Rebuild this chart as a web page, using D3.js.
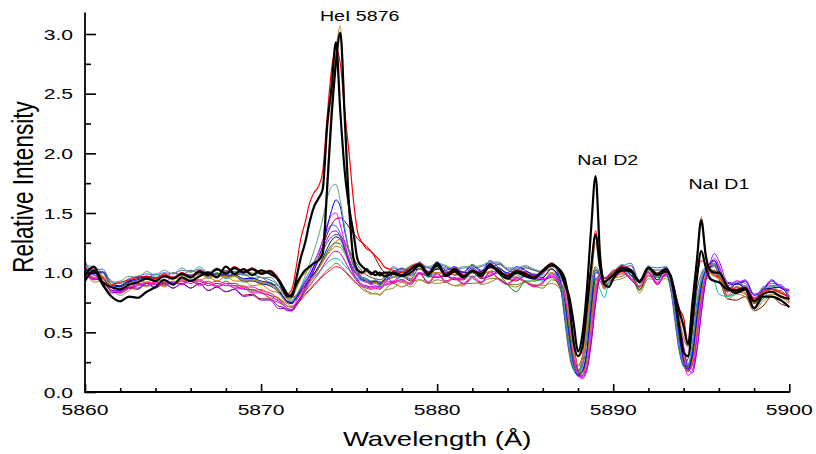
<!DOCTYPE html>
<html><head><meta charset="utf-8">
<script src="https://cdn.jsdelivr.net/npm/d3@7"></script>
<style>html,body{margin:0;padding:0;background:#fff;} svg{display:block;font-family:"Liberation Sans",Arial,sans-serif;}</style>
</head><body><svg id="chart" width="816" height="454"></svg>
<script>
// ---------------- DATA ----------------
const wavelength = [
 5860,5860.5,5861,5861.5,5862,5862.5,5863,5863.5,5864,5864.5,5865,5865.5,5866,5866.5,5867,5867.5,5868,5868.5,5869,5869.5,5870,5870.5,5871,
 5871.25,5871.5,5871.75,5872,5872.25,5872.5,5872.75,5873,5873.25,5873.5,5873.75,5874,5874.25,5874.5,5874.75,5875,5875.25,5875.5,5875.75,5876,5876.25,5876.5,5876.75,5877,
 5877.5,5878,5878.5,5879,5879.5,5880,5880.5,5881,5881.5,5882,5882.5,5883,5883.5,5884,5884.5,5885,5885.5,5886,5886.5,5887,
 5887.25,5887.5,5887.75,5888,5888.25,5888.5,5888.75,5889,5889.25,5889.5,5889.75,5890,
 5890.5,5891,5891.5,5892,5892.5,5893,
 5893.25,5893.5,5893.75,5894,5894.25,5894.5,5894.75,5895,5895.25,5895.5,5895.75,5896,
 5896.5,5897,5897.5,5898,5898.5,5899,5899.5,5900
];

const black1 = [
 0.93,1.02,0.90,0.80,0.76,0.80,0.79,0.84,0.88,0.94,0.90,0.96,0.93,0.97,1.00,0.96,1.05,0.99,1.03,0.98,1.02,0.99,0.94,
 0.88,0.82,0.80,0.95,1.12,1.25,1.42,1.55,1.62,1.70,2.22,2.55,2.93,2.35,1.85,1.55,1.33,1.10,1.05,1.02,1.00,0.98,1.00,0.97,
 0.99,0.97,1.00,1.06,0.98,1.08,0.97,1.01,0.96,1.02,0.97,1.07,1.00,0.95,1.00,0.97,0.95,1.02,1.07,1.00,
 0.90,0.80,0.58,0.34,0.48,0.85,1.38,1.81,1.15,0.90,0.88,0.95,
 1.02,1.01,0.92,1.04,0.98,1.01,
 0.98,0.82,0.68,0.55,0.40,0.75,1.10,1.44,1.15,1.02,1.00,1.00,
 0.88,0.83,0.86,0.70,0.80,0.80,0.77,0.71
];
const black2 = [
 0.98,1.05,0.92,0.88,0.86,0.90,0.92,0.95,0.93,0.97,0.95,0.99,0.96,1.01,0.98,1.03,0.99,1.04,1.00,1.03,0.99,1.01,0.93,
 0.86,0.80,0.82,0.90,0.97,1.02,1.05,1.08,1.10,1.16,1.70,2.30,2.75,3.01,2.30,1.55,1.12,1.02,1.00,1.03,0.99,1.01,0.98,1.00,
 1.00,0.98,1.03,1.07,0.99,1.06,0.98,1.03,0.97,1.01,0.99,1.05,1.02,0.97,1.01,0.99,0.96,1.01,1.06,1.02,
 0.95,0.75,0.42,0.30,0.38,0.70,1.05,1.32,1.05,0.92,0.95,0.98,
 1.04,1.02,0.93,1.04,0.99,1.03,
 0.97,0.80,0.55,0.33,0.30,0.60,0.95,1.18,1.05,0.95,0.93,0.92,
 0.86,0.85,0.87,0.76,0.82,0.84,0.80,0.78
];
const redLine = [
 0.98,1.04,0.96,0.90,0.92,0.94,0.96,0.97,0.95,0.99,0.96,1.00,0.97,1.02,0.99,1.03,1.00,1.05,1.01,1.04,1.00,1.02,0.95,
 0.88,0.82,0.86,1.05,1.28,1.42,1.58,1.67,1.72,1.85,2.30,2.70,2.88,2.75,2.35,2.00,1.60,1.33,1.25,1.20,1.18,1.14,1.10,1.05,
 1.02,1.00,1.05,1.08,1.00,1.05,0.99,1.04,0.98,1.02,1.00,1.06,1.01,0.98,1.02,1.00,0.97,1.02,1.08,1.00,
 0.92,0.70,0.40,0.22,0.30,0.65,1.05,1.35,1.10,0.95,0.97,1.00,
 1.05,1.02,0.93,1.04,0.99,1.03,
 0.98,0.85,0.70,0.62,0.40,0.55,0.95,1.10,1.08,1.02,0.98,0.96,
 0.88,0.86,0.88,0.78,0.84,0.86,0.83,0.80
];
const brownLine = [
 1.00,1.01,0.97,0.89,0.87,0.91,0.93,0.95,0.94,0.97,0.95,0.98,0.96,0.99,0.96,0.98,0.96,0.97,0.94,0.94,0.92,0.90,0.85,
 0.83,0.78,0.79,0.87,0.95,1.00,1.04,1.08,1.12,1.20,1.75,2.40,2.85,3.07,2.35,1.55,1.12,1.02,0.99,1.01,0.98,1.00,0.97,0.99,
 0.99,0.97,1.02,1.06,0.98,1.05,0.97,1.02,0.96,1.00,0.98,1.04,1.01,0.96,1.00,0.98,0.95,1.00,1.05,1.00,
 0.88,0.65,0.35,0.22,0.28,0.55,0.95,1.25,1.02,0.92,0.96,0.99,
 1.04,1.02,0.92,1.04,0.98,1.02,
 0.97,0.82,0.62,0.45,0.38,0.72,1.10,1.47,1.15,1.00,0.97,0.95,
 0.86,0.84,0.86,0.75,0.82,0.84,0.81,0.77
];

const oliveLine = [
 1.05,0.94,0.95,0.88,0.83,0.87,0.91,0.89,0.93,0.90,0.93,0.91,0.94,0.91,0.93,0.89,0.93,0.89,0.89,0.85,0.86,0.81,0.79,
 0.76,0.74,0.72,0.74,0.78,0.82,0.86,0.90,0.94,0.98,1.02,1.05,1.08,1.06,1.02,0.98,0.94,0.90,0.86,0.84,0.82,0.83,0.81,0.85,
 0.91,0.88,0.92,0.94,0.91,0.94,0.92,0.89,0.91,0.91,0.92,0.95,0.95,0.90,0.90,0.92,0.89,0.87,0.94,0.91,
 0.83,0.68,0.40,0.19,0.14,0.21,0.44,0.76,0.95,0.90,0.92,0.95,
 0.97,1.00,0.85,0.97,0.96,0.97,
 0.92,0.75,0.50,0.29,0.18,0.23,0.47,0.75,0.94,1.03,1.06,1.00,
 0.80,0.84,0.82,0.70,0.78,0.82,0.80,0.74
];
const wineLine = [
 0.97,0.96,0.91,0.83,0.84,0.87,0.86,0.91,0.87,0.91,0.87,0.91,0.87,0.91,0.85,0.88,0.84,0.86,0.81,0.82,0.78,0.78,0.72,
 0.71,0.69,0.68,0.72,0.78,0.85,0.93,1.02,1.12,1.22,1.32,1.40,1.45,1.46,1.43,1.38,1.33,1.28,1.25,1.22,1.18,1.12,1.05,1.00,
 0.92,0.97,0.93,0.99,0.97,0.96,0.97,0.94,0.94,1.00,0.95,0.97,1.00,0.95,0.93,0.97,0.95,0.94,0.96,0.86,
 0.70,0.44,0.21,0.15,0.18,0.34,0.70,0.95,0.93,0.87,0.92,0.95,
 1.01,0.94,0.88,1.00,0.90,0.99,
 0.87,0.67,0.40,0.22,0.17,0.28,0.57,0.83,0.95,1.00,1.02,0.95,
 0.78,0.77,0.80,0.68,0.72,0.80,0.74,0.72
];
const pinkLine = [
 1.00,0.95,0.96,0.85,0.84,0.88,0.90,0.92,0.91,0.93,0.91,0.94,0.93,0.94,0.91,0.93,0.91,0.91,0.88,0.88,0.85,0.83,0.78,
 0.75,0.72,0.71,0.73,0.77,0.81,0.85,0.89,0.93,0.97,1.00,1.03,1.05,1.04,1.01,0.97,0.93,0.90,0.88,0.87,0.86,0.87,0.86,0.89,
 0.91,0.93,0.90,0.99,0.91,0.99,0.92,0.95,0.90,0.96,0.91,1.00,0.94,0.90,0.95,0.92,0.88,0.91,0.98,0.88,
 0.78,0.56,0.28,0.13,0.14,0.26,0.56,0.88,0.95,0.88,0.92,0.95,
 0.99,0.96,0.86,0.98,0.92,0.98,
 0.93,0.76,0.51,0.29,0.18,0.23,0.48,0.76,0.95,1.04,1.07,1.01,
 0.81,0.88,0.83,0.71,0.83,0.84,0.85,0.75
];
const darkYellowLine = [
 1.03,0.92,0.93,0.86,0.81,0.85,0.90,0.88,0.91,0.88,0.92,0.90,0.93,0.89,0.91,0.88,0.91,0.87,0.88,0.84,0.84,0.79,0.77,
 0.74,0.72,0.71,0.74,0.79,0.85,0.91,0.97,1.03,1.09,1.15,1.19,1.22,1.21,1.16,1.08,1.00,0.93,0.88,0.85,0.83,0.82,0.82,0.85,
 0.87,0.92,0.88,0.94,0.92,0.91,0.92,0.89,0.89,0.95,0.90,0.92,0.95,0.90,0.88,0.92,0.90,0.89,0.91,0.86,
 0.76,0.54,0.27,0.15,0.16,0.28,0.57,0.86,0.93,0.86,0.90,0.93,
 0.95,0.98,0.83,0.95,0.94,0.95,
 0.89,0.69,0.42,0.23,0.17,0.29,0.59,0.85,0.97,1.03,1.05,0.97,
 0.78,0.82,0.80,0.68,0.76,0.80,0.78,0.72
];
const cyanLine = [
 1.02,1.01,0.96,0.88,0.89,0.93,0.92,0.97,0.94,0.98,0.95,1.00,0.95,1.00,0.95,0.99,0.95,0.97,0.92,0.94,0.90,0.90,0.83,
 0.79,0.76,0.75,0.79,0.84,0.88,0.92,0.96,1.00,1.04,1.08,1.11,1.12,1.10,1.06,1.02,0.98,0.95,0.93,0.92,0.91,0.92,0.90,0.93,
 0.97,0.94,0.98,1.00,0.97,1.00,0.98,0.95,0.97,0.97,0.98,1.01,1.01,0.96,0.96,0.98,0.95,0.93,1.00,0.87,
 0.63,0.36,0.18,0.14,0.20,0.44,0.80,0.96,0.86,0.79,0.92,0.97,
 1.01,0.98,0.88,1.00,0.94,1.00,
 0.88,0.64,0.38,0.21,0.20,0.36,0.68,0.88,0.94,0.96,0.92,0.82,
 0.80,0.83,0.86,0.74,0.78,0.86,0.80,0.78
];
const orchidLine = [
 0.99,0.94,0.95,0.84,0.83,0.87,0.89,0.91,0.90,0.92,0.90,0.93,0.91,0.93,0.89,0.91,0.89,0.89,0.86,0.86,0.83,0.81,0.76,
 0.73,0.70,0.69,0.74,0.79,0.84,0.89,0.94,0.99,1.05,1.11,1.16,1.18,1.16,1.10,1.03,0.97,0.92,0.89,0.88,0.87,0.88,0.87,0.90,
 0.92,0.94,0.91,1.00,0.92,1.00,0.93,0.96,0.91,0.97,0.92,1.01,0.95,0.91,0.96,0.93,0.89,0.92,0.99,0.92,
 0.84,0.66,0.37,0.17,0.13,0.19,0.42,0.74,0.95,0.92,0.94,0.97,
 1.01,0.94,0.88,1.00,0.90,0.99,
 0.96,0.85,0.62,0.38,0.22,0.19,0.36,0.66,0.92,1.05,1.12,1.06,
 0.84,0.91,0.86,0.74,0.86,0.87,0.88,0.78
];
const grayLine = [
 1.10,0.99,1.00,0.93,0.88,0.92,0.97,0.95,0.99,0.96,1.00,0.98,1.02,0.99,1.01,0.98,1.02,0.98,0.99,0.95,0.96,0.91,0.89,
 0.84,0.80,0.79,0.81,0.85,0.90,0.96,1.03,1.10,1.18,1.25,1.30,1.32,1.31,1.26,1.19,1.12,1.06,1.01,0.98,0.96,0.95,0.94,0.96,
 0.99,1.04,1.00,1.06,1.04,1.03,1.04,1.01,1.01,1.07,1.02,1.04,1.07,1.02,1.00,1.04,1.02,1.01,1.03,0.88,
 0.60,0.32,0.19,0.18,0.28,0.57,0.90,1.05,0.99,0.93,0.98,1.02,
 1.03,1.06,0.91,1.03,1.02,1.03,
 0.88,0.60,0.34,0.23,0.28,0.50,0.84,0.99,1.04,1.03,1.01,0.95,
 0.84,0.88,0.86,0.74,0.82,0.86,0.84,0.78
];
const greenLine = [
 1.02,1.01,0.96,0.88,0.89,0.93,0.92,0.97,0.94,0.98,0.95,1.00,0.96,1.01,0.96,1.00,0.96,0.99,0.94,0.96,0.92,0.92,0.85,
 0.80,0.76,0.75,0.78,0.84,0.89,0.94,0.99,1.04,1.10,1.17,1.23,1.25,1.24,1.18,1.10,1.03,0.98,0.95,0.93,0.91,0.92,0.90,0.93,
 0.96,0.98,0.95,1.04,0.96,1.04,0.97,1.00,0.95,1.01,0.96,1.05,0.99,0.90,0.84,0.93,0.93,0.96,1.03,0.92,
 0.76,0.50,0.26,0.16,0.17,0.31,0.65,0.94,0.97,0.90,0.95,0.98,
 1.03,1.00,0.86,1.02,0.96,1.02,
 0.92,0.72,0.45,0.26,0.20,0.32,0.62,0.88,1.00,1.06,1.08,1.00,
 0.87,0.86,0.89,0.77,0.81,0.89,0.83,0.81
];
const navyLine = [
 1.05,1.00,1.01,0.90,0.89,0.93,0.95,0.97,0.96,0.97,0.96,0.99,0.97,0.99,0.96,0.98,0.97,0.97,0.93,0.93,0.91,0.89,0.84,
 0.80,0.76,0.75,0.79,0.84,0.89,0.94,0.99,1.05,1.12,1.20,1.27,1.30,1.28,1.20,1.10,1.02,0.97,0.94,0.93,0.92,0.93,0.92,0.94,
 1.00,0.97,1.01,1.03,1.00,1.03,1.01,0.98,1.00,1.00,1.01,1.04,1.04,0.99,0.99,1.01,0.98,0.96,1.03,0.93,
 0.68,0.40,0.21,0.17,0.23,0.46,0.82,1.02,0.97,0.91,0.96,0.99,
 1.05,0.98,0.92,1.04,0.94,1.03,
 0.90,0.66,0.40,0.23,0.22,0.38,0.70,0.92,1.02,1.05,1.06,0.99,
 0.84,0.91,0.86,0.74,0.86,0.87,0.88,0.78
];
const orangeLine = [
 1.07,0.96,0.97,0.90,0.85,0.89,0.94,0.92,0.95,0.92,0.96,0.94,0.97,0.94,0.96,0.93,0.97,0.93,0.93,0.89,0.90,0.85,0.83,
 0.78,0.75,0.74,0.77,0.82,0.87,0.92,0.97,1.03,1.09,1.15,1.21,1.26,1.28,1.25,1.18,1.09,1.01,0.96,0.93,0.92,0.92,0.91,0.93,
 0.96,1.01,0.97,1.03,1.01,1.00,1.01,0.98,0.98,1.04,0.99,1.01,1.04,0.99,0.97,1.01,0.99,0.98,1.00,0.93,
 0.80,0.58,0.30,0.17,0.17,0.29,0.59,0.91,0.99,0.92,0.96,0.99,
 1.00,1.03,0.88,1.00,0.99,1.00,
 0.95,0.78,0.53,0.31,0.21,0.26,0.51,0.79,0.98,1.07,1.10,1.04,
 0.84,0.88,0.86,0.74,0.82,0.86,0.84,0.78
];
const purpleLine = [
 0.99,0.98,0.93,0.85,0.85,0.88,0.87,0.91,0.88,0.91,0.87,0.91,0.87,0.91,0.85,0.88,0.84,0.86,0.80,0.81,0.77,0.77,0.70,
 0.70,0.68,0.68,0.74,0.80,0.87,0.94,1.02,1.10,1.20,1.28,1.34,1.35,1.30,1.20,1.08,0.99,0.94,0.90,0.89,0.88,0.89,0.88,0.91,
 0.99,1.01,0.98,1.07,0.99,1.07,1.00,1.03,0.98,1.04,0.99,1.08,1.02,0.98,1.03,1.00,0.96,0.99,1.06,0.99,
 0.87,0.68,0.38,0.17,0.12,0.18,0.41,0.75,0.99,0.96,0.98,1.01,
 1.06,1.03,0.93,1.05,0.99,1.05,
 0.98,0.86,0.62,0.37,0.20,0.16,0.34,0.66,0.94,1.08,1.16,1.10,
 0.92,0.91,0.94,0.82,0.86,0.94,0.88,0.86
];
const royalLine = [
 1.07,1.02,1.03,0.92,0.91,0.95,0.97,0.99,0.98,1.00,0.99,1.02,1.01,1.03,1.00,1.02,1.01,1.01,0.98,0.98,0.96,0.94,0.89,
 0.83,0.78,0.77,0.81,0.87,0.94,1.01,1.09,1.17,1.27,1.35,1.40,1.39,1.33,1.22,1.11,1.03,0.98,0.95,0.94,0.93,0.94,0.92,0.95,
 1.04,1.01,1.05,1.07,1.04,1.07,1.05,1.02,1.04,1.04,1.05,1.08,1.08,1.03,1.03,1.05,1.02,1.00,1.07,0.92,
 0.66,0.38,0.20,0.17,0.23,0.47,0.84,1.03,0.98,0.92,0.97,1.00,
 1.05,1.08,0.93,1.05,1.04,1.05,
 0.90,0.63,0.37,0.22,0.23,0.42,0.75,0.95,1.04,1.06,1.06,0.99,
 0.86,0.93,0.88,0.76,0.88,0.89,0.90,0.80
];
const magentaLine = [
 1.06,0.95,0.96,0.88,0.83,0.87,0.91,0.89,0.92,0.89,0.92,0.90,0.93,0.90,0.91,0.88,0.91,0.87,0.87,0.83,0.83,0.78,0.75,
 0.73,0.70,0.69,0.76,0.83,0.90,0.97,1.06,1.15,1.27,1.40,1.48,1.50,1.40,1.25,1.12,1.02,0.97,0.93,0.92,0.90,0.91,0.89,0.92,
 0.93,0.98,0.94,1.00,0.98,0.97,0.98,0.95,0.95,1.01,0.96,0.98,1.01,0.96,0.94,0.98,0.96,0.95,0.97,0.91,
 0.80,0.60,0.30,0.14,0.11,0.20,0.48,0.82,0.97,0.92,0.95,0.98,
 1.02,0.95,0.89,1.01,0.91,1.00,
 0.94,0.76,0.50,0.27,0.14,0.18,0.44,0.75,0.96,1.06,1.10,1.05,
 0.89,0.93,0.91,0.79,0.87,0.91,0.89,0.83
];
const blueLine = [
 1.04,0.99,1.00,0.89,0.88,0.92,0.94,0.96,0.95,0.97,0.96,0.99,0.98,1.00,0.97,0.99,0.98,0.98,0.95,0.95,0.93,0.91,0.86,
 0.80,0.75,0.74,0.80,0.86,0.92,0.98,1.05,1.12,1.22,1.38,1.52,1.61,1.55,1.35,1.18,1.06,1.00,0.96,0.95,0.92,0.93,0.91,0.94,
 1.01,1.03,1.00,1.09,1.01,1.09,1.02,1.05,1.00,1.06,1.01,1.10,1.04,1.00,1.05,1.02,0.98,1.01,1.08,0.94,
 0.74,0.46,0.22,0.14,0.17,0.34,0.72,1.00,0.98,0.92,0.97,1.00,
 1.05,1.02,0.92,1.04,0.98,1.04,
 0.93,0.73,0.46,0.26,0.19,0.31,0.62,0.89,1.02,1.08,1.10,1.02,
 0.91,0.90,0.93,0.81,0.85,0.93,0.87,0.85
];
const tealLine = [
 1.06,1.05,1.00,0.92,0.93,0.97,0.96,1.01,0.98,1.02,0.99,1.04,1.00,1.05,1.00,1.04,1.00,1.03,0.98,1.00,0.96,0.96,0.89,
 0.83,0.78,0.76,0.81,0.88,0.97,1.07,1.18,1.30,1.45,1.62,1.72,1.74,1.60,1.38,1.18,1.05,0.99,0.96,0.95,0.93,0.94,0.92,0.95,
 1.05,1.02,1.06,1.08,1.05,1.08,1.06,1.03,1.05,1.05,1.06,1.09,1.09,1.04,1.04,1.06,1.03,1.01,1.08,0.96,
 0.70,0.41,0.21,0.16,0.22,0.46,0.83,1.03,0.98,0.92,0.97,1.00,
 1.07,1.00,0.94,1.06,0.96,1.05,
 0.91,0.67,0.41,0.24,0.23,0.39,0.71,0.93,1.03,1.06,1.07,1.00,
 0.85,0.92,0.87,0.75,0.87,0.88,0.89,0.79
];

const yMajorTicks = [0, 0.5, 1.0, 1.5, 2.0, 2.5, 3.0];
const yTickLabels = ["0.0", "0.5", "1.0", "1.5", "2.0", "2.5", "3.0"];
const yMinorTicks = [0.25, 0.75, 1.25, 1.75, 2.25, 2.75];
const xMajorTicks = [5860, 5870, 5880, 5890, 5900];
const xTickLabels = ["5860", "5870", "5880", "5890", "5900"];
const xMinorTicks = [5862, 5864, 5866, 5868, 5872, 5874, 5876, 5878, 5882, 5884, 5886, 5888, 5892, 5894, 5896, 5898];
const lineLabels = ["HeI 5876", "NaI D2", "NaI D1"];
const xTitle = "Wavelength (Å)";
const yTitle = "Relative Intensity";

// ---------------- DRAW ----------------
const svg = d3.select("#chart");
svg.append("rect").attr("width", 816).attr("height", 454).attr("fill", "#fff");

const x = d3.scaleLinear().domain([5860, 5900]).range([85, 789.3]);
const y = d3.scaleLinear().domain([0, 3]).range([392, 34]);
const yTop = y(3.18);

const colored = [
  [oliveLine, "#808000"], [wineLine, "#800000"], [pinkLine, "#ff0080"], [darkYellowLine, "#a08a20"],
  [cyanLine, "#00bfbf"], [orchidLine, "#c000c0"], [grayLine, "#505050"], [greenLine, "#008000"],
  [navyLine, "#000080"], [orangeLine, "#e07000"], [purpleLine, "#8000ff"], [royalLine, "#4169e1"],
  [magentaLine, "#ff00ff"], [blueLine, "#0000ff"], [tealLine, "#5f9e80"]
];
const emphasis = [
  [redLine, "#ff0000", 1.2], [brownLine, "#c08a3e", 1.4], [black2, "#000000", 2.2], [black1, "#000000", 2.2]
];

const line = d3.line()
  .x((d, i) => x(wavelength[i]))
  .y(d => y(d))
  .curve(d3.curveMonotoneX);

const gLines = svg.append("g");
colored.forEach(([vals, col]) => {
  if (vals.length !== wavelength.length) console.error("length mismatch", col, vals.length);
  gLines.append("path").attr("d", line(vals)).attr("fill", "none")
    .attr("stroke", col).attr("stroke-width", 1).attr("stroke-linejoin", "round");
});
emphasis.forEach(([vals, col, w]) => {
  if (vals.length !== wavelength.length) console.error("length mismatch", col, vals.length);
  gLines.append("path").attr("d", line(vals)).attr("fill", "none")
    .attr("stroke", col).attr("stroke-width", w).attr("stroke-linejoin", "round");
});

// axes
const yMinorAxis = d3.axisLeft(y).tickValues(yMinorTicks).tickSize(-6).tickSizeOuter(0).tickFormat("");
const yMajorAxis = d3.axisLeft(y).tickValues(yMajorTicks).tickSize(-11).tickSizeOuter(0).tickFormat("");
const xMinorAxis = d3.axisBottom(x).tickValues(xMinorTicks).tickSize(-4).tickSizeOuter(0).tickFormat("");
const xMajorAxis = d3.axisBottom(x).tickValues(xMajorTicks).tickSize(-8).tickSizeOuter(0).tickFormat("");
[yMinorAxis, yMajorAxis].forEach(a => {
  const g = svg.append("g").attr("transform", "translate(85,0)").call(a);
  g.select(".domain").remove();
  g.selectAll("line").attr("stroke", "#000").attr("stroke-width", 1.6);
});
[xMinorAxis, xMajorAxis].forEach(a => {
  const g = svg.append("g").attr("transform", "translate(0,392)").call(a);
  g.select(".domain").remove();
  g.selectAll("line").attr("stroke", "#000").attr("stroke-width", 1.6);
});
svg.append("line").attr("x1", 85).attr("x2", 85).attr("y1", yTop).attr("y2", 392.8)
  .attr("stroke", "#000").attr("stroke-width", 1.8);
svg.append("line").attr("x1", 84.1).attr("x2", x(5900) + 0.8).attr("y1", 392).attr("y2", 392)
  .attr("stroke", "#000").attr("stroke-width", 1.8);

const SX = 1.36;
yMajorTicks.forEach((v, i) => {
  svg.append("text").attr("transform", `translate(73,${y(v) + 5.6}) scale(${SX},1)`)
    .attr("text-anchor", "end").attr("font-size", 15.5).attr("fill", "#000").text(yTickLabels[i]);
});
xMajorTicks.forEach((v, i) => {
  svg.append("text").attr("transform", `translate(${x(v)},415) scale(${SX},1)`)
    .attr("text-anchor", "middle").attr("font-size", 15.5).attr("fill", "#000").text(xTickLabels[i]);
});
svg.append("text").attr("transform", `translate(${x(5880)},446) scale(1.31,1)`)
  .attr("text-anchor", "middle").attr("font-size", 21).attr("fill", "#000").text(xTitle);
svg.append("text").attr("transform", `translate(33,187) rotate(-90) scale(1,1.35)`)
  .attr("text-anchor", "middle").attr("font-size", 22.5).attr("fill", "#000").text(yTitle);

const labelPos = [[5875.6, 3.11], [5889.69, 1.90], [5896.0, 1.70]];
lineLabels.forEach((t, i) => {
  svg.append("text").attr("transform", `translate(${x(labelPos[i][0])},${y(labelPos[i][1])}) scale(1.35,1)`)
    .attr("text-anchor", "middle").attr("font-size", 14.5).attr("fill", "#000").text(t);
});
</script></body></html>
